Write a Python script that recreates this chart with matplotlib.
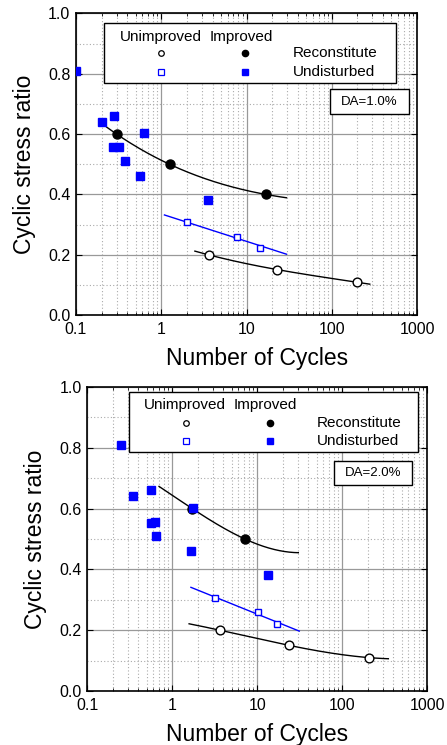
import numpy as np
import matplotlib
matplotlib.use("Agg")
import matplotlib.pyplot as plt
import matplotlib as mpl
from matplotlib.lines import Line2D
from matplotlib.patches import Rectangle
from matplotlib.ticker import LogLocator, MultipleLocator, FixedLocator, NullFormatter

mpl.rcParams['font.family'] = ['Liberation Sans', 'DejaVu Sans']
mpl.rcParams['axes.labelsize'] = 16.5
mpl.rcParams['xtick.labelsize'] = 11.5
mpl.rcParams['ytick.labelsize'] = 11.5
mpl.rcParams['axes.linewidth'] = 1.2
mpl.rcParams['xtick.direction'] = 'in'
mpl.rcParams['ytick.direction'] = 'in'
mpl.rcParams['xtick.major.size'] = 4
mpl.rcParams['ytick.major.size'] = 4
mpl.rcParams['xtick.minor.size'] = 2.5
mpl.rcParams['ytick.minor.size'] = 0

BLUE = '#0000FF'

# ---- DA = 1.0 % ----
top_und_imp_n = [0.1, 0.2, 0.28, 0.27, 0.32, 0.38, 0.63, 0.57, 3.5]
top_und_imp_csr = [0.81, 0.64, 0.66, 0.556, 0.558, 0.51, 0.603, 0.46, 0.383]
top_rec_imp_n = [0.3, 1.25, 16.9]
top_rec_imp_csr = [0.6, 0.5, 0.4]
top_rec_unimp_n = [3.6, 22.7, 200]
top_rec_unimp_csr = [0.2, 0.151, 0.109]
top_und_unimp_n = [2.0, 7.8, 14.5]
top_und_unimp_csr = [0.309, 0.259, 0.224]
# trend lines, points
top_fit_rec_imp_n = [0.229, 0.3, 1.25, 16.9, 29.4]
top_fit_rec_imp_csr = [0.623, 0.6, 0.5, 0.4, 0.389]
top_fit_rec_unimp_n = [2.48, 3.6, 22.7, 200, 279]
top_fit_rec_unimp_csr = [0.212, 0.2, 0.151, 0.109, 0.1025]
top_fit_und_unimp_n = [1.09, 29.4]
top_fit_und_unimp_csr = [0.332, 0.202]

# ---- DA = 2.0 % ----
bot_und_imp_n = [0.25, 0.35, 0.57, 0.57, 0.63, 0.65, 1.75, 1.66, 13.3]
bot_und_imp_csr = [0.81, 0.64, 0.66, 0.553, 0.556, 0.51, 0.602, 0.461, 0.381]
bot_rec_imp_n = [1.72, 7.16]
bot_rec_imp_csr = [0.6, 0.5]
bot_rec_unimp_n = [3.64, 23.6, 204]
bot_rec_unimp_csr = [0.2, 0.15, 0.11]
bot_und_unimp_n = [3.15, 10.1, 16.9]
bot_und_unimp_csr = [0.307, 0.259, 0.222]
bot_fit_rec_imp_n = [0.70, 1.72, 7.16, 30.4]
bot_fit_rec_imp_csr = [0.673, 0.6, 0.5, 0.455]
bot_fit_rec_unimp_n = [1.58, 3.64, 23.6, 204, 348]
bot_fit_rec_unimp_csr = [0.221, 0.2, 0.15, 0.11, 0.106]
bot_fit_und_unimp_n = [1.66, 31.2]
bot_fit_und_unimp_csr = [0.341, 0.197]

x_ticks = [0.1, 1, 10, 100, 1000]
x_ticklabels = ['0.1', '1', '10', '100', '1000']


def trend(ax, n, csr, color, deg):
    lx = np.log10(n)
    p = np.polyfit(lx, csr, min(deg, len(n) - 1))
    xx = np.linspace(lx[0], lx[-1], 200)
    ax.plot(10**xx, np.polyval(p, xx), color=color, lw=1.0, zorder=3)


def panel(ax, d, box, da_label):
    ax.set_xscale('log')
    ax.set_xlim(0.1, 1000)
    ax.set_ylim(0, 1.0)
    ax.xaxis.set_major_locator(FixedLocator(x_ticks))
    ax.set_xticklabels(x_ticklabels)
    ax.xaxis.set_minor_locator(LogLocator(base=10, subs=np.arange(2, 10)))
    ax.xaxis.set_minor_formatter(NullFormatter())
    ax.yaxis.set_major_locator(MultipleLocator(0.2))
    ax.yaxis.set_minor_locator(MultipleLocator(0.1))
    ax.yaxis.set_major_formatter(mpl.ticker.FormatStrFormatter('%.1f'))
    ax.tick_params(which='both', top=True, right=True)
    ax.tick_params(axis='x', pad=5)
    ax.tick_params(axis='y', pad=4)
    ax.grid(which='major', color='#999999', lw=0.9)
    ax.grid(which='minor', color='#aaaaaa', lw=0.8, ls=(0, (1, 2)))
    ax.set_axisbelow(True)

    trend(ax, d['fit_rec_imp_n'], d['fit_rec_imp_csr'], 'black', 3)
    trend(ax, d['fit_rec_unimp_n'], d['fit_rec_unimp_csr'], 'black', 3)
    trend(ax, d['fit_und_unimp_n'], d['fit_und_unimp_csr'], BLUE, 1)

    ax.plot(d['rec_unimp_n'], d['rec_unimp_csr'], 'o', ms=6.3, mfc='white', mec='black', mew=1.0, zorder=4)
    ax.plot(d['und_unimp_n'], d['und_unimp_csr'], 's', ms=5.0, mfc='white', mec=BLUE, mew=1.0, zorder=4)
    ax.plot(d['rec_imp_n'], d['rec_imp_csr'], 'o', ms=6.5, color='black', zorder=4)
    ax.plot(d['und_imp_n'], d['und_imp_csr'], 's', ms=5.6, color=BLUE, zorder=5)

    ax.set_xlabel('Number of Cycles', labelpad=7)
    ax.set_ylabel('Cyclic stress ratio', labelpad=9)

    # legend box drawn by hand
    x0, x1, y0, y1 = box['legend']
    ax.add_patch(Rectangle((x0, y0), x1 - x0, y1 - y0, transform=ax.transAxes,
                           facecolor='white', edgecolor='black', lw=1.0, zorder=6))
    cu, ci, cm_o, cm_f, cl = box['cols']
    yh, r1, r2 = box['rows']
    fs = 11
    ax.text(cu, yh, 'Unimproved', transform=ax.transAxes, fontsize=fs, va='center', zorder=7)
    ax.text(ci, yh, 'Improved', transform=ax.transAxes, fontsize=fs, va='center', zorder=7)
    ax.add_line(Line2D([cm_o], [r1], marker='o', ms=4, mfc='white', mec='black', mew=0.9,
                       transform=ax.transAxes, zorder=7))
    ax.add_line(Line2D([cm_f], [r1], marker='o', ms=4.5, color='black',
                       transform=ax.transAxes, zorder=7))
    ax.add_line(Line2D([cm_o], [r2], marker='s', ms=3.8, mfc='white', mec=BLUE, mew=0.9,
                       transform=ax.transAxes, zorder=7))
    ax.add_line(Line2D([cm_f], [r2], marker='s', ms=4.2, color=BLUE,
                       transform=ax.transAxes, zorder=7))
    ax.text(cl, r1, 'Reconstitute', transform=ax.transAxes, fontsize=fs, va='center', zorder=7)
    ax.text(cl, r2, 'Undisturbed', transform=ax.transAxes, fontsize=fs, va='center', zorder=7)

    dx0, dx1, dy0, dy1 = box['da']
    ax.add_patch(Rectangle((dx0, dy0), dx1 - dx0, dy1 - dy0, transform=ax.transAxes,
                           facecolor='white', edgecolor='black', lw=1.0, zorder=6))
    ax.text((dx0 + dx1) / 2, (dy0 + dy1) / 2, da_label, transform=ax.transAxes,
            fontsize=9.5, ha='center', va='center', zorder=7)


top = dict(und_imp_n=top_und_imp_n, und_imp_csr=top_und_imp_csr,
           rec_imp_n=top_rec_imp_n, rec_imp_csr=top_rec_imp_csr,
           rec_unimp_n=top_rec_unimp_n, rec_unimp_csr=top_rec_unimp_csr,
           und_unimp_n=top_und_unimp_n, und_unimp_csr=top_und_unimp_csr,
           fit_rec_imp_n=top_fit_rec_imp_n, fit_rec_imp_csr=top_fit_rec_imp_csr,
           fit_rec_unimp_n=top_fit_rec_unimp_n, fit_rec_unimp_csr=top_fit_rec_unimp_csr,
           fit_und_unimp_n=top_fit_und_unimp_n, fit_und_unimp_csr=top_fit_und_unimp_csr)
bot = dict(und_imp_n=bot_und_imp_n, und_imp_csr=bot_und_imp_csr,
           rec_imp_n=bot_rec_imp_n, rec_imp_csr=bot_rec_imp_csr,
           rec_unimp_n=bot_rec_unimp_n, rec_unimp_csr=bot_rec_unimp_csr,
           und_unimp_n=bot_und_unimp_n, und_unimp_csr=bot_und_unimp_csr,
           fit_rec_imp_n=bot_fit_rec_imp_n, fit_rec_imp_csr=bot_fit_rec_imp_csr,
           fit_rec_unimp_n=bot_fit_rec_unimp_n, fit_rec_unimp_csr=bot_fit_rec_unimp_csr,
           fit_und_unimp_n=bot_fit_und_unimp_n, fit_und_unimp_csr=bot_fit_und_unimp_csr)

fig = plt.figure(figsize=(4.47, 7.45), dpi=100)
ax1 = fig.add_axes([0.170, 0.577, 0.763, 0.405])
ax2 = fig.add_axes([0.195, 0.0725, 0.761, 0.408])

panel(ax1, top, dict(legend=(0.082, 0.938, 0.768, 0.967),
                     cols=(0.129, 0.393, 0.249, 0.496, 0.636),
                     rows=(0.921, 0.868, 0.805),
                     da=(0.745, 0.977, 0.666, 0.748)), 'DA=1.0%')
panel(ax2, bot, dict(legend=(0.124, 0.974, 0.786, 0.984),
                     cols=(0.168, 0.432, 0.290, 0.537, 0.676),
                     rows=(0.941, 0.882, 0.822),
                     da=(0.726, 0.955, 0.678, 0.757)), 'DA=2.0%')
ax1.xaxis.label.set_x(0.53)

fig.savefig('out.png', dpi=100)
